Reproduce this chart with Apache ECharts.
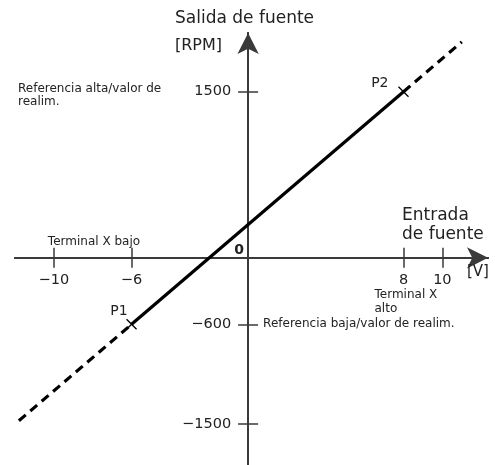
<!DOCTYPE html>
<html><head><meta charset="utf-8">
<script src="https://cdn.jsdelivr.net/npm/echarts@6/dist/echarts.min.js"></script>
<style>html,body{margin:0;padding:0;background:#fff}#c{width:495px;height:465px}</style>
</head><body><div id="c"></div>
<script>
// ---- data ----
const xTicks = [-10, -6, 8, 10];
const yTicks = [-1500, -600, 1500];
const solidX = [-6, 8];
const solidY = [-600, 1500];
const dashLowX = [-11.8, -6];
const dashLowY = [-1470, -600];
const dashHighX = [8, 11];
const dashHighY = [1500, 1950];
const pointNames = ['P1', 'P2'];

const zip = (xs, ys) => xs.map((x, i) => [x, ys[i]]);
const fmt = v => v < 0 ? '\u2212' + (-v) : String(v);

const AX = '#3a3a3a';
const TXT = '#222';
const FONT = 'DejaVu Sans';

const X_MIN = -12, X_MAX = 12.35, Y_MIN = -1870, Y_MAX = 2030;

const chart = echarts.init(document.getElementById('c'));
const axisLineBase = { onZero: true, lineStyle: { color: AX, width: 2 } };
const tickStyle = { color: AX, width: 1.5 };
const option = {
  animation: false,
  backgroundColor: '#fff',
  grid: { left: 15, right: 7, top: 33, bottom: 0, containLabel: false, outerBoundsMode: 'none' },
  xAxis: [
    {
      type: 'value', min: X_MIN, max: X_MAX, position: 'bottom',
      axisLine: Object.assign({}, axisLineBase, { symbol: ['none', 'arrow'], symbolSize: [16, 21] }),
      axisTick: { show: true, customValues: xTicks, length: 10, lineStyle: tickStyle },
      axisLabel: { show: false },
      splitLine: { show: false }
    },
    {
      type: 'value', min: X_MIN, max: X_MAX, position: 'top',
      axisLine: Object.assign({}, axisLineBase, { symbol: 'none' }),
      axisTick: { show: true, customValues: xTicks, length: 10, lineStyle: tickStyle },
      axisLabel: { show: false },
      splitLine: { show: false }
    }
  ],
  yAxis: [
    {
      type: 'value', min: Y_MIN, max: Y_MAX, position: 'left',
      axisLine: Object.assign({}, axisLineBase, { symbol: ['none', 'arrow'], symbolSize: [16, 21] }),
      axisTick: { show: true, customValues: yTicks, length: 10, lineStyle: tickStyle },
      axisLabel: { show: false },
      splitLine: { show: false }
    },
    {
      type: 'value', min: Y_MIN, max: Y_MAX, position: 'right',
      axisLine: Object.assign({}, axisLineBase, { symbol: 'none' }),
      axisTick: { show: true, customValues: yTicks, length: 10, lineStyle: tickStyle },
      axisLabel: { show: false },
      splitLine: { show: false }
    }
  ],
  series: [
    {
      type: 'line', name: 'solid', data: zip(solidX, solidY), showSymbol: true,
      symbol: 'path://M0,0L10,10M10,0L0,10', symbolSize: 10,
      itemStyle: { color: 'none', borderColor: '#000', borderWidth: 1.3 },
      lineStyle: { color: '#000', width: 3.2 }, z: 5
    },
    {
      type: 'line', name: 'dashLow', data: zip(dashLowX, dashLowY), showSymbol: false,
      lineStyle: { color: '#000', width: 3.2, type: [9, 6] }
    },
    {
      type: 'line', name: 'dashHigh', data: zip(dashHighX, dashHighY), showSymbol: false,
      lineStyle: { color: '#000', width: 3.2, type: [9, 6] }
    }
  ]
};
chart.setOption(option);

const px = (x, y) => chart.convertToPixel({ xAxisIndex: 0, yAxisIndex: 0 }, [x, y]);
const o = px(0, 0);
const txt = (text, x, y, font, align) => ({
  type: 'text', x: x, y: y, z: 10,
  style: { text: text, fill: TXT, font: font, textAlign: align || 'left', textVerticalAlign: 'middle' }
});
const f = (size, w) => (w ? w + ' ' : '') + size + 'px "' + FONT + '"';

const p1 = px(solidX[0], solidY[0]);
const p2 = px(solidX[1], solidY[1]);
const tHigh = px(0, yTicks[2]);
const tLow = px(0, yTicks[1]);
const tXm10 = px(xTicks[0], 0);
const tX8 = px(xTicks[2], 0);

const graphics = [];
// tick labels (placed through the axis scales)
xTicks.forEach(v => { const p = px(v, 0); graphics.push(txt(fmt(v), p[0], p[1] + 22, f(14.5), 'center')); });
yTicks.forEach(v => { const p = px(0, v); graphics.push(txt(fmt(v), p[0] - 17, p[1], f(14.5), 'right')); });
graphics.push(
  txt('Salida de fuente', 175, 19, f(17)),
  txt('[RPM]', 175, 46, f(16)),
  txt('Entrada', 402, 216, f(17)),
  txt('de fuente', 402, 235, f(17)),
  txt('[V]', 467, 272, f(15)),
  txt('Referencia alta/valor de', 18, tHigh[1] - 3, f(12)),
  txt('realim.', 18, tHigh[1] + 10, f(12)),
  txt('Terminal X bajo', tXm10[0] - 6, o[1] - 16, f(12)),
  txt('Terminal X', tX8[0] - 29, o[1] + 37, f(12)),
  txt('alto', tX8[0] - 29, o[1] + 51, f(12)),
  txt('Referencia baja/valor de realim.', o[0] + 15, tLow[1], f(12)),
  txt(pointNames[0], p1[0] - 4, p1[1] - 13, f(14), 'right'),
  txt(pointNames[1], p2[0] - 15, p2[1] - 8, f(14), 'right'),
  txt('0', o[0] - 9, o[1] - 8, f(14, 'bold'), 'center')
);
chart.setOption({ graphic: graphics });
</script>
</body></html>
